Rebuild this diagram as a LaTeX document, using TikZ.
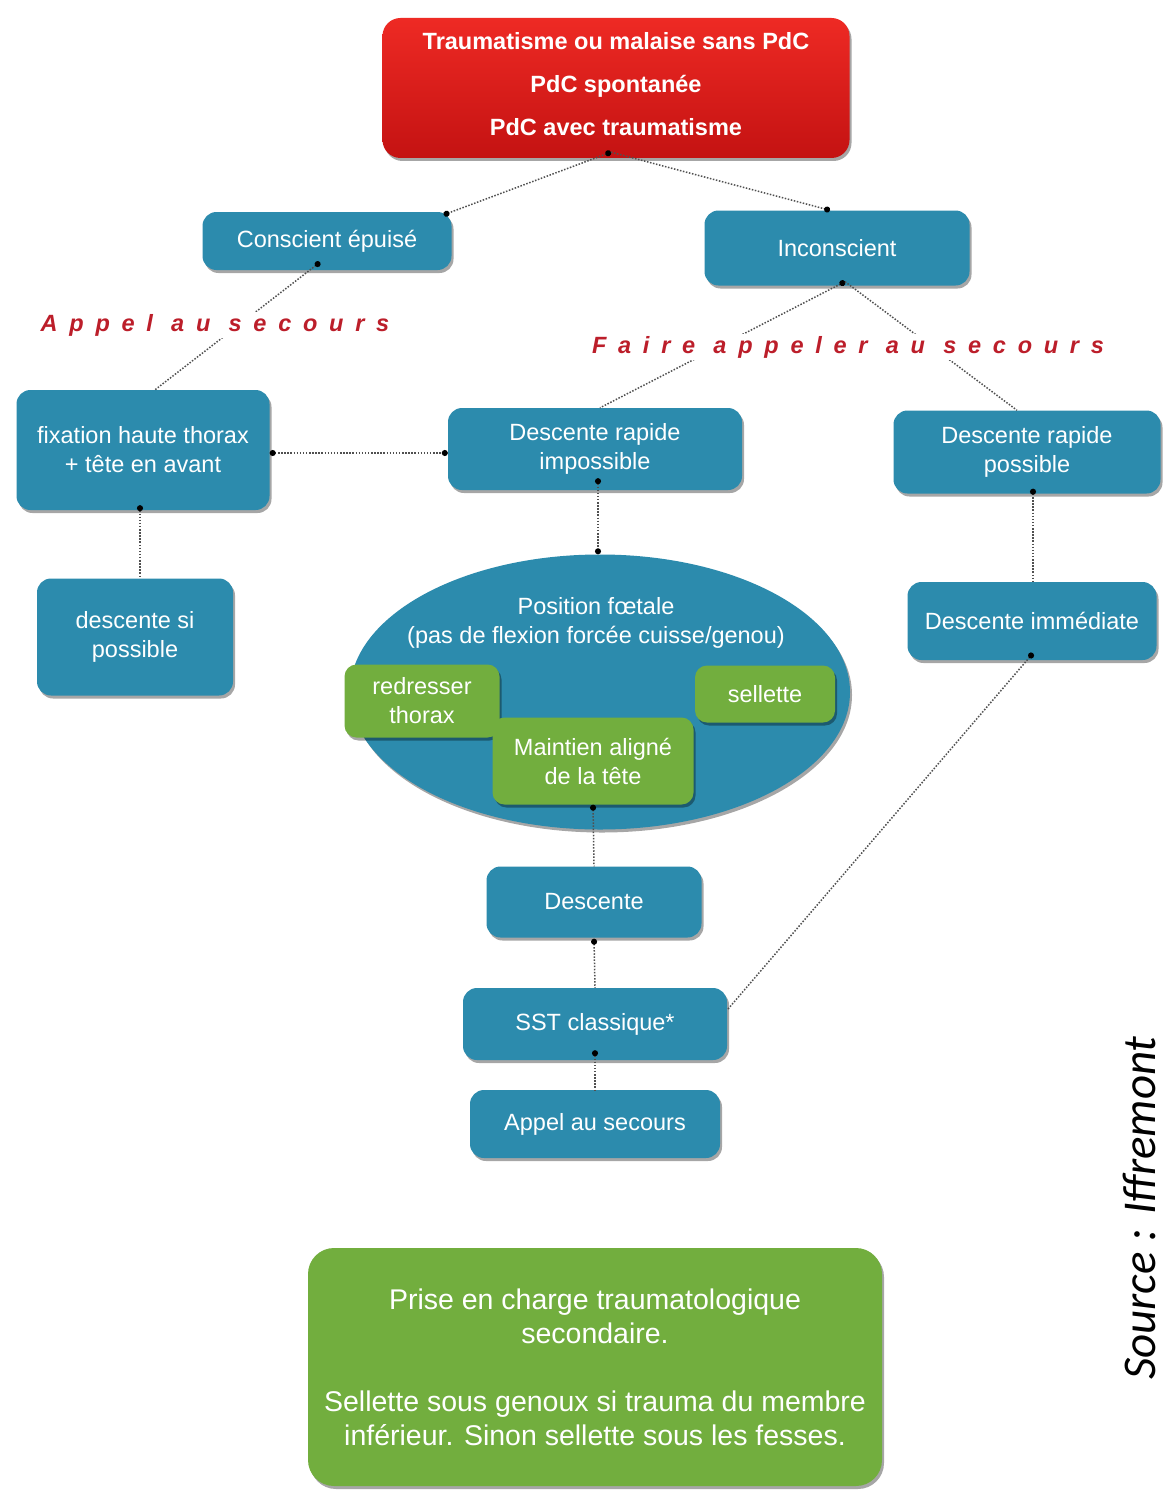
\documentclass[tikz,border=0pt]{standalone}
\usepackage{fontspec}
\setmainfont{Liberation Sans}
\newfontfamily\srcfont{Carlito}
\usetikzlibrary{shapes.geometric,shadows,arrows.meta}
\definecolor{boxblue}{RGB}{44,139,173}
\definecolor{boxgreen}{RGB}{114,174,62}
\definecolor{redtop}{RGB}{238,42,36}
\definecolor{redbot}{RGB}{196,18,18}
\definecolor{labred}{RGB}{188,30,42}
\definecolor{connc}{RGB}{80,80,80}
\tikzset{
  shadowed/.style={drop shadow={shadow xshift=2pt,shadow yshift=-3pt,opacity=.35,fill=black}},
  bluebox/.style={rounded corners=14pt,fill=boxblue,text=white,align=center,inner sep=0pt,
    font=\fontsize{23.5}{29}\selectfont,shadowed},
  greenbox/.style={rounded corners=12pt,fill=boxgreen,text=white,align=center,inner sep=0pt,
    font=\fontsize{23.5}{29}\selectfont,shadowed},
  calllabel/.style={text=labred,fill=white,inner sep=2pt,
    font=\fontsize{23.5}{26}\selectfont\bfseries\itshape\addfontfeature{LetterSpace=50}},
  conn/.style={draw=connc,line width=1.5pt,dash pattern=on 1.5pt off 1.6pt},
  dotboth/.style={{Circle[length=6pt,color=black]}-{Circle[length=6pt,color=black]}},
  dotstart/.style={{Circle[length=6pt,color=black]}-},
  dotend/.style={-{Circle[length=6pt,color=black]}},
}
\begin{document}
\begin{tikzpicture}[x=1pt,y=-1pt]
\useasboundingbox[fill=white] (0,0) rectangle (1164,1490);

% top red box
\node[rounded corners=18pt,top color=redtop,bottom color=redbot,
  inner sep=0pt,minimum width=467pt,minimum height=140pt,shadowed] (top) at (616,88) {};
\node[text=white,align=center,inner sep=0pt,font=\fontsize{23.5}{43}\selectfont\bfseries] (toptext) at (616,84)
  {Traumatisme ou malaise sans PdC\\PdC spontanée\\PdC avec traumatisme};

\node[bluebox,minimum width=249pt,minimum height=58pt] (cons) at (327,241) {Conscient épuisé};
\node[bluebox,minimum width=265pt,minimum height=75pt] (inc) at (837,248) {Inconscient};

\node[bluebox,minimum width=253pt,minimum height=120pt] (fix) at (143,450) {fixation haute thorax\\+ tête en avant};
\node[bluebox,minimum width=294pt,minimum height=82pt] (descimp) at (595,449) {Descente rapide\\impossible};
\node[bluebox,minimum width=267pt,minimum height=83pt] (descpos) at (1027,452) {Descente rapide\\possible};
\node[bluebox,minimum width=196pt,minimum height=117pt] (dsp) at (135,637) {descente si\\possible};
\node[bluebox,minimum width=249pt,minimum height=78pt] (imm) at (1032,621) {Descente immédiate};

% ellipse
\node[ellipse,fill=boxblue,minimum width=500pt,minimum height=275pt,inner sep=0pt,shadowed] (ell) at (600,692) {};
\node[text=white,align=center,font=\fontsize{23.5}{29}\selectfont,inner sep=0pt] (foet) at (596,623)
  {Position fœtale\\(pas de flexion forcée cuisse/genou)};
\node[greenbox,minimum width=155pt,minimum height=73pt] (redr) at (422,701) {redresser\\thorax};
\node[greenbox,minimum width=140pt,minimum height=57pt] (sel) at (765,694) {sellette};
\node[greenbox,minimum width=201pt,minimum height=87pt] (mai) at (593,761) {Maintien aligné\\de la tête};

\node[bluebox,minimum width=215pt,minimum height=71pt] (desc) at (594,902) {Descente};
\node[bluebox,minimum width=264pt,minimum height=72pt] (sst) at (595,1024) {SST classique*};
\node[bluebox,minimum width=250pt,minimum height=68pt] (appel) at (595,1124) {Appel au secours};

% bottom green box
\node[rounded corners=26pt,fill=boxgreen,text=white,align=center,inner sep=0pt,
  minimum width=574pt,minimum height=238pt,shadowed,font=\fontsize{28.5}{34}\selectfont] (prise) at (595,1367)
  {Prise en charge traumatologique\\secondaire.\\[34pt]Sellette sous genoux si trauma du membre\\inférieur. Sinon sellette sous les fesses.};

% connectors
\draw[conn,dotboth] ([xshift=-5pt,yshift=6pt]top.south) -- ([xshift=-8pt,yshift=-3pt]cons.north east);
\draw[conn,dotend] ([xshift=-5pt,yshift=6pt]top.south) -- ([xshift=-7pt]inc.north);
\draw[conn,dotstart] ([xshift=-7pt,yshift=8pt]cons.south) -- ([xshift=12pt]fix.north);
\draw[conn,dotstart] ([xshift=8pt,yshift=4pt]inc.south) -- ([xshift=5pt]descimp.north);
\draw[conn] ([xshift=8pt,yshift=4pt]inc.south) -- ([xshift=-10pt]descpos.north);
\draw[conn,dotboth] ([yshift=-3pt]fix.east) -- ([yshift=-4pt]descimp.west);
\draw[conn,dotstart] ([xshift=-3pt,yshift=5pt]fix.south) -- ([xshift=5pt]dsp.north);
\draw[conn,dotboth] ([xshift=3pt,yshift=12pt]descimp.south) -- ([xshift=-2pt]ell.north);
\draw[conn,dotstart] ([xshift=6pt,yshift=5pt]descpos.south) -- ([xshift=1pt]imm.north);
\draw[conn,dotstart] ([xshift=1pt,yshift=7pt]imm.south) -- ([yshift=14pt]sst.east);
\draw[conn,dotstart] (mai.south) -- (desc.north);
\draw[conn,dotstart] ([yshift=-1pt]desc.south) -- (sst.north);
\draw[conn,dotstart] ([yshift=10pt]sst.south) -- (appel.north);

% call labels (over the connectors)
\node[calllabel] (lab1) at (215,325) {Appel au secours};
\node[calllabel] (lab2) at (848,347) {Faire appeler au secours};

% source
\node[rotate=90,font=\fontsize{47}{52}\srcfont\itshape,inner sep=0pt] (src) at (1139,1208) {Source : Iffremont};
\end{tikzpicture}
\end{document}
